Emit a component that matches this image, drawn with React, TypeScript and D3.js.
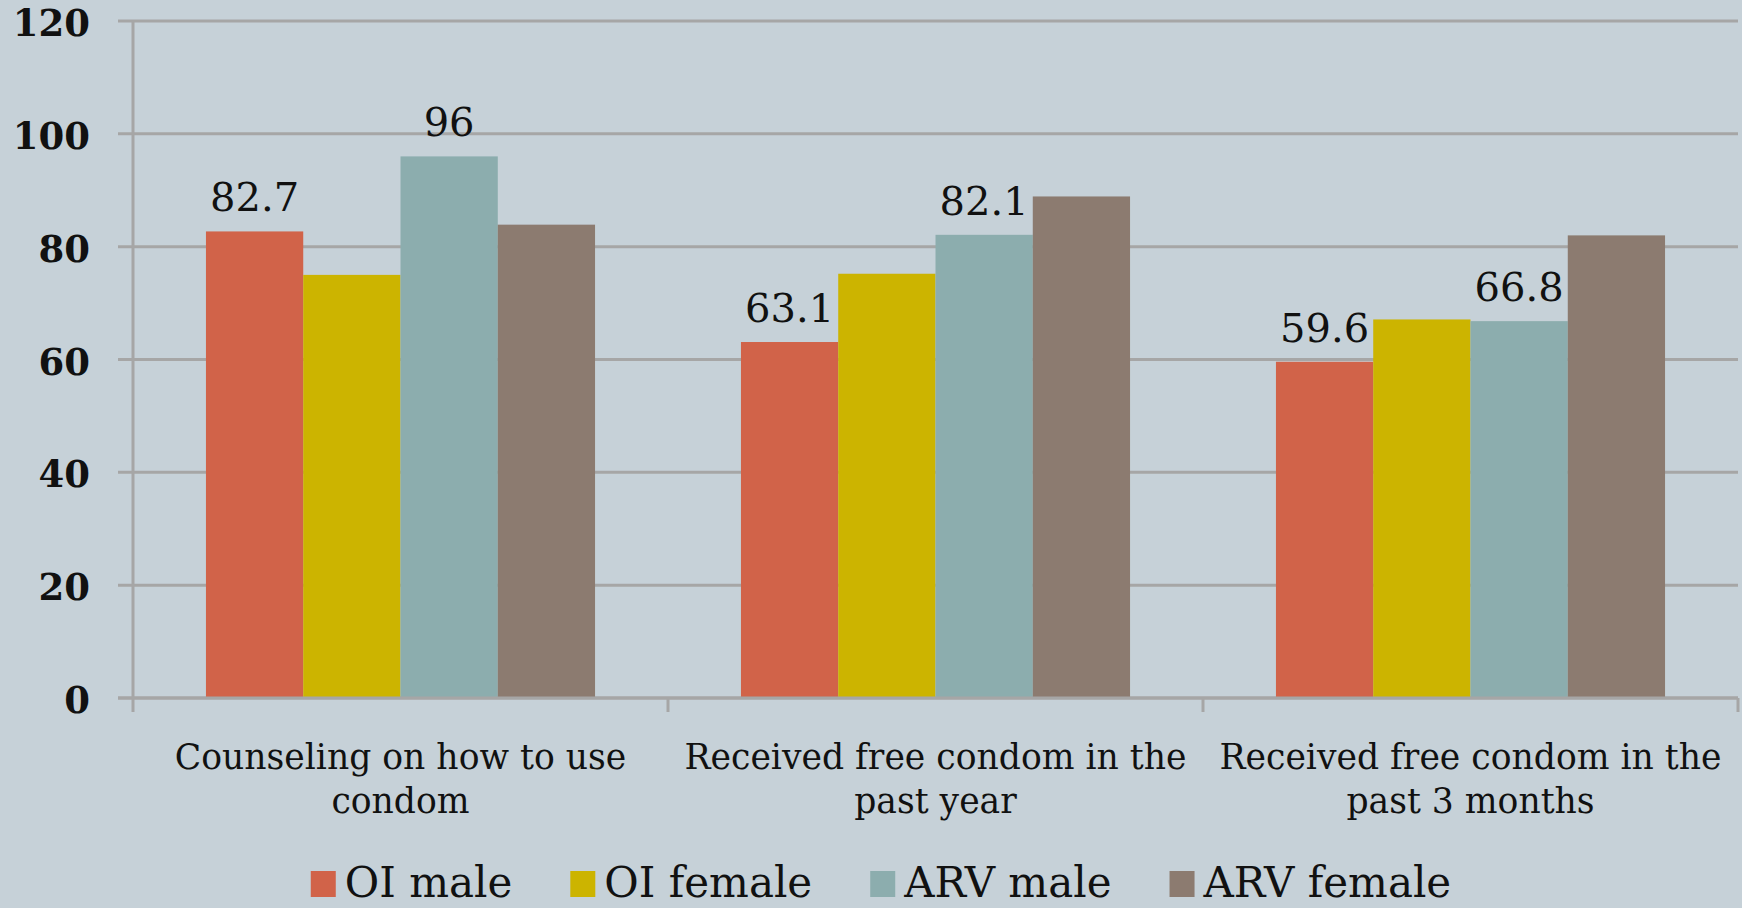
import React, { useEffect, useRef } from 'react';
import * as d3 from 'd3';

const categories = ['cat1', 'cat2', 'cat3'];
const categoryLines = [
  ['Counseling on how to use', 'condom'],
  ['Received free condom in the', 'past year'],
  ['Received free condom in the', 'past 3 months'],
];
const seriesNames = ['OI male', 'OI female', 'ARV male', 'ARV female'];
const seriesColors = ['#d16349', '#ccb400', '#8cadae', '#8c7b70'];
const oiMale = [82.7, 63.1, 59.6];
const oiFemale = [75.0, 75.2, 67.1];
const arvMale = [96, 82.1, 66.8];
const arvFemale = [83.9, 88.9, 82.0];
const labelledSeries = ['OI male', 'ARV male'];
const yTicks = [0, 20, 40, 60, 80, 100, 120];

const W = 1742;
const H = 908;
const FONT = '"DejaVu Serif", serif';

const App: React.FC = () => {
  const svgRef = useRef<SVGSVGElement>(null);

  useEffect(() => {
    document.body.style.margin = '0';
    if (!svgRef.current) return;
    const svg = d3.select(svgRef.current);
    svg.selectAll('*').remove();

    const values = [oiMale, oiFemale, arvMale, arvFemale];
    const rows = categories.map((c, i) => ({
      cat: c,
      vals: seriesNames.map((s, j) => ({ name: s, value: values[j][i] })),
    }));

    const x = d3.scaleBand<string>().domain(categories).range([133, 1738]).padding(0);
    const xs = d3.scaleBand<string>().domain(seriesNames)
      .range([0, x.bandwidth()]).paddingInner(0).paddingOuter(0.75);
    const y = d3.scaleLinear().domain([0, 120]).range([698, 21]);
    const color = d3.scaleOrdinal<string, string>().domain(seriesNames).range(seriesColors);

    svg.append('rect').attr('width', W).attr('height', H).attr('fill', '#c6d1d8');

    // gridlines + y ticks
    svg.append('g').selectAll('line').data(yTicks).join('line')
      .attr('x1', 118).attr('x2', 1738)
      .attr('y1', d => y(d)).attr('y2', d => y(d))
      .attr('stroke', '#a6a6a6').attr('stroke-width', 3);

    svg.append('g').selectAll('text').data(yTicks).join('text')
      .attr('x', 90).attr('y', d => y(d) + 15)
      .attr('text-anchor', 'end')
      .style('font-family', FONT).style('font-size', '37px').style('font-weight', 'bold')
      .attr('fill', '#111')
      .text(d => d);

    // bars
    const groups = svg.append('g').selectAll('g').data(rows).join('g')
      .attr('transform', d => `translate(${x(d.cat)},0)`);

    groups.selectAll('rect').data(d => d.vals).join('rect')
      .attr('x', d => xs(d.name)!)
      .attr('width', xs.bandwidth())
      .attr('y', d => y(d.value))
      .attr('height', d => y(0) - y(d.value))
      .attr('fill', d => color(d.name));

    groups.selectAll('text').data(d => d.vals.filter(v => labelledSeries.includes(v.name))).join('text')
      .attr('x', d => xs(d.name)! + xs.bandwidth() / 2)
      .attr('y', d => y(d.value) - 20)
      .attr('text-anchor', 'middle')
      .style('font-family', FONT).style('font-size', '40px')
      .attr('fill', '#111')
      .text(d => d.value);

    // axes
    svg.append('line')
      .attr('x1', 118).attr('x2', 1738).attr('y1', y(0)).attr('y2', y(0))
      .attr('stroke', '#a6a6a6').attr('stroke-width', 3);
    svg.append('line')
      .attr('x1', 133).attr('x2', 133).attr('y1', y(120)).attr('y2', 712)
      .attr('stroke', '#a6a6a6').attr('stroke-width', 3);
    const edges = categories.map(c => x(c)!).concat([x.range()[1]]);
    svg.append('g').selectAll('line').data(edges.slice(1)).join('line')
      .attr('x1', d => d).attr('x2', d => d).attr('y1', y(0)).attr('y2', 712)
      .attr('stroke', '#a6a6a6').attr('stroke-width', 3);

    // category labels
    const catText = svg.append('g').selectAll('text').data(categories).join('text')
      .attr('text-anchor', 'middle')
      .style('font-family', FONT).style('font-size', '34.6px')
      .attr('fill', '#111');
    catText.selectAll('tspan').data((d, i) => categoryLines[i].map(l => ({ l, c: d }))).join('tspan')
      .attr('x', d => x(d.c)! + x.bandwidth() / 2)
      .attr('y', (d, i) => 769 + i * 44)
      .text(d => d.l);

    // legend
    const legend = svg.append('g');
    let cx = 0;
    seriesNames.forEach(name => {
      const g = legend.append('g').attr('transform', `translate(${cx},0)`);
      g.append('rect').attr('x', 0).attr('y', 871).attr('width', 25).attr('height', 26)
        .attr('fill', color(name));
      const t = g.append('text').attr('x', 34).attr('y', 897)
        .style('font-family', FONT).style('font-size', '42px')
        .attr('fill', '#111').text(name);
      const w = (t.node() as SVGTextElement).getComputedTextLength();
      cx += 34 + w + 58;
    });
    const total = cx - 58;
    legend.attr('transform', `translate(${881 - total / 2},0)`);
  }, []);

  return <svg ref={svgRef} width={W} height={H} style={{ display: 'block' }} />;
};

export default App;
